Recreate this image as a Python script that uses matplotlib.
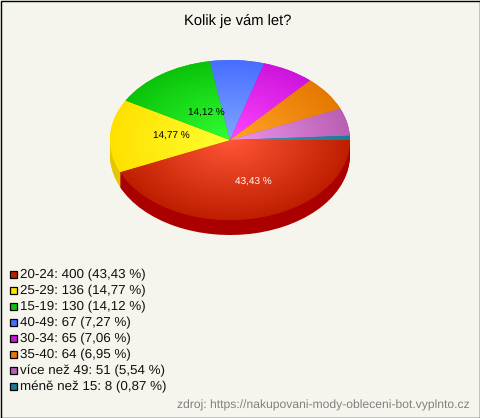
import numpy as np
import matplotlib
matplotlib.use("Agg")
import matplotlib.pyplot as plt
from matplotlib.patches import Rectangle

plt.rcParams['font.family'] = ['Liberation Sans', 'DejaVu Sans']
plt.rcParams['text.hinting'] = 'no_hinting'

title = "Kolik je vám let?"
categories = ["20-24", "25-29", "15-19", "40-49", "30-34", "35-40", "více než 49", "méně než 15"]
counts = [400, 136, 130, 67, 65, 64, 51, 8]
percents = ["43,43", "14,77", "14,12", "7,27", "7,06", "6,95", "5,54", "0,87"]
inner_colors = ["#ff5637", "#ffff32", "#32ff32", "#82a5ff", "#ff46ff", "#ffa528", "#eb96eb", "#30a0c0"]
outer_colors = ["#be1e00", "#ffe100", "#0ac30a", "#466eff", "#cd14dc", "#e67800", "#b95fb4", "#197d96"]
side_colors = ["#aa0000", "#e1c800", "#089008", "#3050c0", "#9010a0", "#b06000", "#8a4888", "#125e70"]
source = "zdroj: https://nakupovani-mody-obleceni-bot.vyplnto.cz"
bg = "#f5f5ed"

W, H = 480, 418
cx, cy, rx, ry, depth = 230, 140, 120, 80, 15

fig = plt.figure(figsize=(W / 100, H / 100), dpi=100, facecolor=bg)
pax = fig.add_axes([0, 0, 1, 1])

# side wall: the same pie stacked downward
for off in np.arange(depth, 0, -1):
    wedges, _ = pax.pie(counts, colors=side_colors, startangle=0, counterclock=False,
                        center=(0, -off / ry), radius=1, frame=True,
                        wedgeprops=dict(linewidth=0))

# top face
wedges, _ = pax.pie(counts, colors=outer_colors, startangle=0, counterclock=False,
                    center=(0, 0), radius=1, frame=True,
                    wedgeprops=dict(linewidth=0))
gx, gy = np.meshgrid(np.linspace(-1.02, 1.02, 300), np.linspace(-1.02, 1.02, 300))
r = np.clip(np.hypot(gx, gy), 0, 1)[..., None]
for w, a, b in zip(wedges, inner_colors, outer_colors):
    ca = np.array(matplotlib.colors.to_rgb(a))
    cb = np.array(matplotlib.colors.to_rgb(b))
    im = pax.imshow(ca * (1 - r) + cb * r, extent=(-1.02, 1.02, -1.02, 1.02),
                    origin='lower', interpolation='bilinear', zorder=2)
    im.set_clip_path(w)

pax.set_aspect('auto')
pax.set_xlim(-cx / rx, (W - cx) / rx)
pax.set_ylim((cy - H) / ry, cy / ry)
pax.axis('off')

# overlay in pixel coordinates
ax = fig.add_axes([0, 0, 1, 1], facecolor='none')
ax.set_xlim(0, W)
ax.set_ylim(H, 0)
ax.axis('off')

ax.text(237.5, 20.5, title, ha='center', va='center', fontsize=10.6, color='black')
ax.text(253, 182, percents[0] + " %", ha='center', va='center', fontsize=7.2, color='white')
ax.text(171, 136, percents[1] + " %", ha='center', va='center', fontsize=7.2, color='black')
ax.text(206, 113, percents[2] + " %", ha='center', va='center', fontsize=7.2, color='black')

for i, (c, n, p, col) in enumerate(zip(categories, counts, percents, outer_colors)):
    y = 274 + i * 16
    ax.add_patch(Rectangle((9.5, y - 3.5), 7, 7, facecolor=col, edgecolor='black', linewidth=0.9))
    ax.text(20, y + 1, f"{c}: {n} ({p} %)", ha='left', va='center', fontsize=9.6, color='#111111')

ax.text(470, 405.5, source, ha='right', va='center', fontsize=8.75, color='#808080')

ax.add_patch(Rectangle((0.5, 0.5), W - 1, H - 1, facecolor='none', edgecolor='black', linewidth=1))

fig.savefig("out.png", dpi=100, facecolor=bg)
